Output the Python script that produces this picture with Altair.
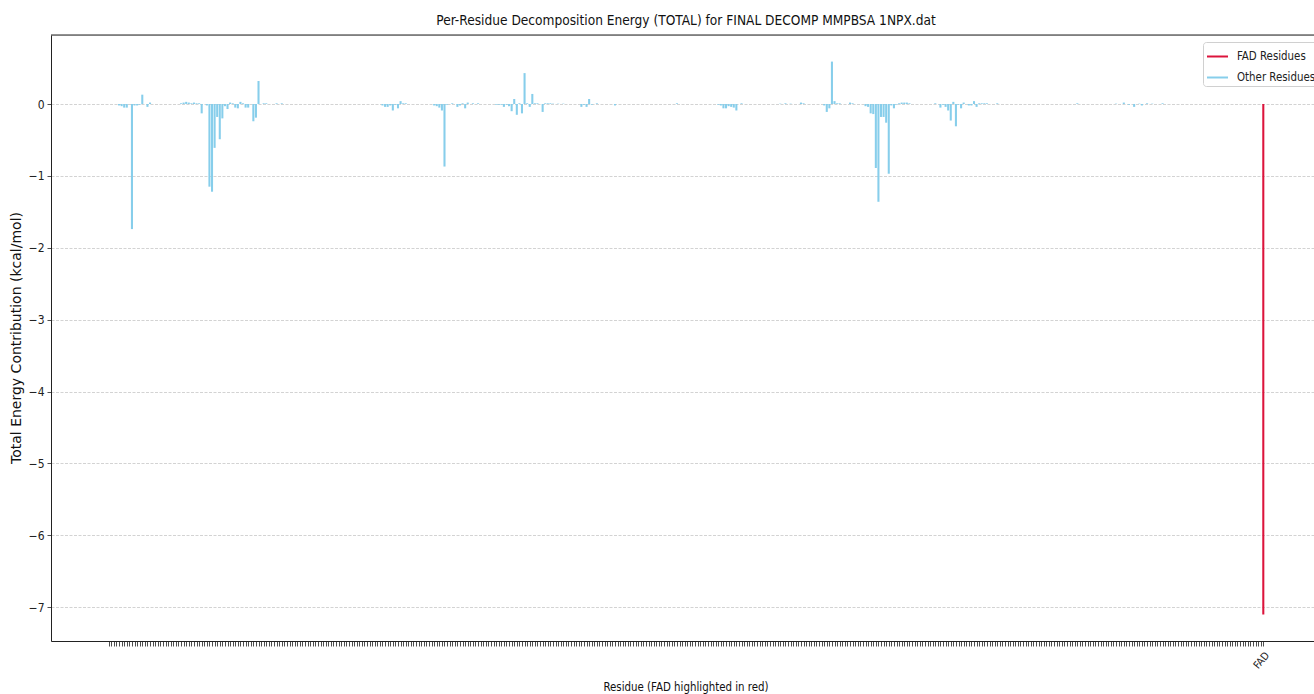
import altair as alt
import pandas as pd

# ---- data ----
n_protein = 447                       # protein residues (ticks with blank labels)
fad_label = "FAD"
fad_energy = -7.10

energy_index = [4, 5, 6, 7, 9, 10, 11, 12, 13, 15, 16,
                28, 29, 30, 31, 32, 33, 34, 35, 36, 38, 39, 40, 41, 42, 43, 44, 45, 46, 47, 48,
                49, 50, 51, 52, 53, 54, 56, 57, 58, 60, 61, 65, 67,
                106, 107, 108, 109, 110, 111, 112, 113, 114, 115,
                126, 127, 128, 129, 130, 131, 133, 135, 136, 137, 138, 139, 141, 143,
                150, 151, 152, 153, 154, 155, 156, 157, 158, 159, 160, 161, 162, 163, 164, 165,
                166, 168, 169, 170, 171, 172, 174, 176, 183, 184, 185, 186, 187, 189, 196,
                220, 236, 237, 238, 239, 240, 241, 242, 243, 245, 260, 262, 264, 268, 269,
                277, 278, 279, 280, 281, 282, 283, 287, 288,
                293, 294, 295, 296, 297, 298, 299, 300, 301, 302, 303, 304, 305, 306, 307, 308,
                309, 310, 320, 322, 323, 324, 325, 326, 327, 328, 329, 330, 331, 333, 334, 335,
                336, 337, 338, 339, 340, 344,
                375, 390, 393, 395, 397, 399, 400, 402, 404, 408]
energy_value = [-0.02, -0.03, -0.05, -0.05, -1.74, -0.02, -0.02, -0.01, 0.13, -0.04, 0.02,
                0.01, 0.02, 0.03, 0.02, 0.01, 0.02, 0.01, 0.01, -0.13, -0.02, -1.15, -1.22, -0.61, -0.18, -0.49, -0.20, -0.03, -0.07, 0.02, 0.01,
                -0.05, -0.06, 0.03, 0.01, -0.05, -0.05, -0.24, -0.19, 0.32, 0.01, 0.01, 0.01, 0.01,
                -0.02, -0.04, -0.04, -0.02, -0.09, -0.01, -0.06, 0.04, 0.01, 0.01,
                -0.02, -0.03, -0.05, -0.09, -0.87, -0.01, 0.01, -0.04, -0.02, 0.01, -0.06, 0.02, 0.01, 0.01,
                -0.01, -0.01, -0.01, -0.04, -0.01, -0.03, -0.10, 0.07, -0.15, 0.01, -0.13, 0.43, 0.01, -0.04, 0.14, 0.01,
                0.01, -0.11, 0.01, 0.01, 0.01, 0.005, 0.005, 0.005, -0.04, -0.01, -0.04, 0.07, -0.01, 0.01, -0.02,
                0.01, -0.01, -0.02, -0.06, -0.06, -0.03, -0.04, -0.05, -0.09, 0.01, 0.005, 0.01, 0.005, 0.02, 0.01,
                -0.02, -0.11, -0.06, 0.59, 0.04, 0.01, 0.01, 0.02, 0.01,
                -0.03, -0.04, -0.13, -0.14, -0.89, -1.36, -0.18, -0.18, -0.26, -0.97, -0.02, -0.06, -0.01, 0.01, 0.02, 0.02,
                0.02, 0.01, 0.01, -0.05, -0.01, -0.04, -0.09, -0.23, 0.03, -0.31, -0.01, -0.06, 0.02, -0.02, -0.02, 0.04,
                -0.04, 0.01, 0.01, 0.01, 0.01, 0.01,
                0.01, 0.005, 0.02, -0.01, -0.04, 0.005, -0.02, 0.01, 0.005, 0.01]

groups = ["FAD Residues", "Other Residues"]
group_colors = ["#DC143C", "#87CEEB"]

title_text = "Per-Residue Decomposition Energy (TOTAL) for FINAL DECOMP MMPBSA 1NPX.dat"
x_title = "Residue (FAD highlighted in red)"
y_title = "Total Energy Contribution (kcal/mol)"

# ---- build table ----
lookup = dict(zip(energy_index, energy_value))
rows = []
for i in range(n_protein):
    rows.append({"idx": i, "label": "", "energy": lookup.get(i, 0.0), "group": groups[1]})
rows.append({"idx": n_protein, "label": fad_label, "energy": fad_energy, "group": groups[0]})
df = pd.DataFrame(rows)
df["zero"] = 0.0

W, H = 1263, 606
PX_PER_UNIT = 2.583
COND = "DejaVu Sans Condensed, sans-serif"

x_scale = alt.Scale(domain=[-22.34, 466.63], zero=False, nice=False)
y_scale = alt.Scale(domain=[-7.47, 0.96], zero=False, nice=False)
group_scale = alt.Scale(domain=groups, range=group_colors)

# each residue bar (width 0.8 residue) drawn as a thick vertical rule
bars = alt.Chart(df).mark_rule(strokeWidth=0.8 * PX_PER_UNIT, strokeCap="butt").encode(
    x=alt.X("idx:Q", scale=x_scale,
            axis=alt.Axis(values=list(range(n_protein + 1)),
                          labelExpr=f"datum.value == {n_protein} ? '{fad_label}' : ''",
                          labelAngle=310, labelAlign="right", labelBaseline="top",
                          labelOverlap=False, labelFlush=False, labelPadding=4,
                          labelFont=COND, labelFontSize=10.5, labelColor="#222",
                          tickSize=5, tickColor="#222", tickWidth=0.8,
                          domainColor="#222", domainWidth=1, grid=False, title=None)),
    y=alt.Y("energy:Q", scale=y_scale,
            axis=alt.Axis(values=[-7, -6, -5, -4, -3, -2, -1, 0],
                          labelExpr="datum.value < 0 ? '\u2212' + abs(datum.value) : '0'",
                          labelFont=COND, labelFontSize=12, labelColor="#222", labelPadding=3,
                          tickSize=4, tickColor="#222", tickWidth=0.8,
                          domainColor="#222", domainWidth=1,
                          grid=True, gridDash=[3, 1.5], gridColor="#c8c8c8", gridWidth=0.8,
                          title=None)),
    y2="zero:Q",
    color=alt.Color("group:N", scale=group_scale,
                    legend=alt.Legend(title=None, orient="none", legendX=1152, legendY=7,
                                      symbolType="stroke", symbolSize=441, symbolStrokeWidth=2,
                                      rowPadding=4, padding=3, labelOffset=8,
                                      labelFont=COND, labelFontSize=11.4, labelColor="#222",
                                      fillColor="white", strokeColor="#d0d0d0", cornerRadius=3)),
)

one = pd.DataFrame({"t": [title_text], "xt": [x_title], "yt": [y_title]})

title_mark = alt.Chart(one).mark_text(font=COND, fontSize=13.6, align="center",
                                      baseline="alphabetic", color="#111").encode(
    x=alt.value(635), y=alt.value(-10), text="t:N")
xtitle_mark = alt.Chart(one).mark_text(font=COND, fontSize=11.4, align="center",
                                       baseline="alphabetic", color="#111").encode(
    x=alt.value(635), y=alt.value(656), text="xt:N")
ytitle_mark = alt.Chart(one).mark_text(font="DejaVu Sans", fontSize=14, align="center",
                                       baseline="middle", angle=270, color="#111").encode(
    x=alt.value(-34), y=alt.value(303), text="yt:N")
top_border = alt.Chart(one).mark_rule(color="#222", strokeWidth=1).encode(
    x=alt.value(0), x2=alt.value(W), y=alt.value(0))

chart = alt.layer(bars, top_border, title_mark, xtitle_mark, ytitle_mark).properties(
    width=W, height=H,
    autosize=alt.AutoSizeParams(type="none"),
    padding={"left": 51, "top": 35, "right": 0, "bottom": 53},
).configure_view(stroke=None).configure(background="white")

chart.save("out.html", embed_options={"renderer": "svg", "actions": False})
